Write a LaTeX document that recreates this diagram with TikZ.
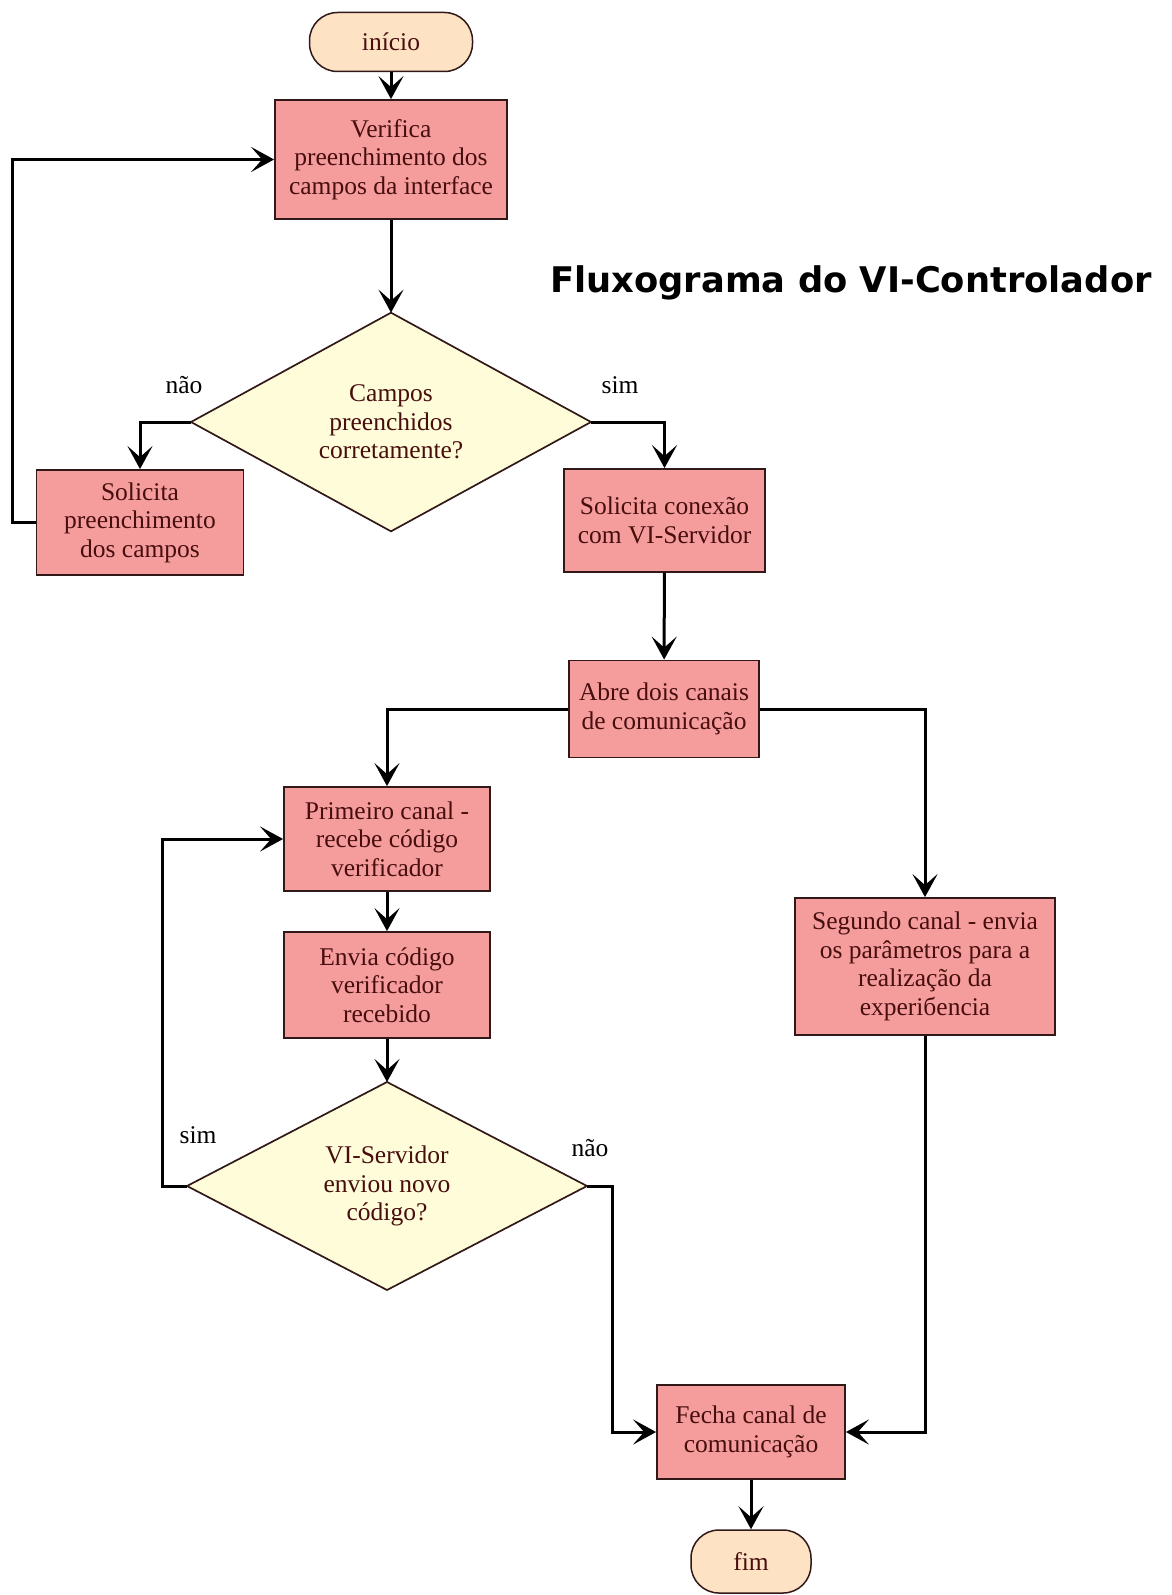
\documentclass[tikz,border=0pt]{standalone}
\usepackage{fontspec}
\setmainfont{Liberation Serif}
\newfontfamily\titlefont{DejaVu Sans}
\usetikzlibrary{shapes.geometric,arrows.meta}

\definecolor{procfill}{RGB}{245,157,157}
\definecolor{procedge}{RGB}{50,25,25}
\definecolor{proctext}{RGB}{72,14,14}
\definecolor{decfill}{RGB}{255,252,218}
\definecolor{termfill}{RGB}{253,226,196}

\begin{document}
\begin{tikzpicture}[x=1pt,y=-1pt,
  font=\fontsize{25.5}{28.5}\selectfont,
  procbox/.style={draw=procedge, line width=1.8pt, fill=procfill, text=proctext,
    align=center, inner sep=0pt},
  decision/.style={diamond, draw=procedge, line width=1.7pt, fill=decfill,
    text=proctext, align=center, inner sep=0pt, outer sep=0pt,
    minimum width=400pt, minimum height=208pt},
  terminal/.style={draw=procedge, line width=1.5pt, fill=termfill, text=proctext,
    rounded corners=28pt, align=center, inner sep=0pt},
  lbl/.style={text=black, inner sep=0pt},
  flow/.style={line width=3pt, -{Stealth[length=23pt,width=25pt,inset=11pt]}}]

\useasboundingbox[fill=white] (0,0) rectangle (1172,1595);

% title
\node[font=\titlefont\bfseries\fontsize{35.3}{40}\selectfont, anchor=base] (title)
  at (851,292) {Fluxograma do VI-Controlador};

% nodes
\node[terminal, minimum width=163pt, minimum height=59pt] (ini) at (391,42) {início};
\node[procbox, minimum width=232pt, minimum height=119pt] (ver) at (391,159.5)
  {Verifica\\preenchimento dos\\campos da interface};
\node[decision] (d1) at (391,422) {Campos\\preenchidos\\corretamente?};
\node[procbox, minimum width=207pt, minimum height=105pt] (sol) at (140,522.5)
  {Solicita\\preenchimento\\dos campos};
\node[procbox, minimum width=201pt, minimum height=103pt] (con) at (664.5,520.5)
  {Solicita conexão\\com VI-Servidor};
\node[procbox, minimum width=190pt, minimum height=97pt] (abre) at (664,709)
  {Abre dois canais\\de comunicação};
\node[procbox, minimum width=206pt, minimum height=104pt] (prim) at (387,839)
  {Primeiro canal -\\recebe código\\verificador};
\node[procbox, minimum width=206pt, minimum height=106pt] (env) at (387,985)
  {Envia código\\verificador\\recebido};
\node[decision] (d2) at (387,1186) {VI-Servidor\\enviou novo\\código?};
\node[procbox, minimum width=260pt, minimum height=137pt] (seg) at (925,966.5)
  {Segundo canal - envia\\os parâmetros para a\\realização da\\experiбencia};
\node[procbox, minimum width=188pt, minimum height=94pt] (fecha) at (751,1432)
  {Fecha canal de\\comunicação};
\node[terminal, minimum width=120pt, minimum height=63pt] (fim) at (751,1561.5) {fim};

% branch labels
\node[lbl] (nao1) at (184,385) {não};
\node[lbl] (sim1) at (620,385) {sim};
\node[lbl] (sim2) at (198,1135) {sim};
\node[lbl] (nao2) at (590,1148) {não};

% connectors
\draw[flow] (ini) -- (ver);
\draw[flow] (ver) -- (d1);
\draw[flow] (d1.west) -| (sol.north);
\draw[flow] (sol.west) -- ++(-23,0) |- (ver.west);
\draw[flow] (d1.east) -| (con.north);
\draw[flow] (con) -- (abre);
\draw[flow] (abre.west) -| (prim.north);
\draw[flow] (abre.east) -| (seg.north);
\draw[flow] (prim) -- (env);
\draw[flow] (env) -- (d2);
\draw[flow] (d2.west) -- ++(-25,0) |- (prim.west);
\draw[flow] (d2.east) -- ++(25,0) |- (fecha.west);
\draw[flow] (seg.south) |- (fecha.east);
\draw[flow] (fecha) -- (fim);
\end{tikzpicture}
\end{document}
